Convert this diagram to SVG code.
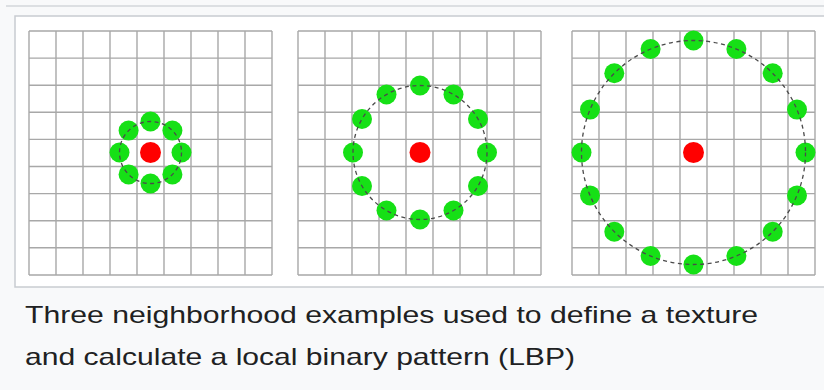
<svg xmlns="http://www.w3.org/2000/svg" xmlns:xlink="http://www.w3.org/1999/xlink" width="824" height="390" viewBox="0 0 824 390">
<style>
.gl{stroke:#a8a8a8;stroke-width:1.4;fill:none}
.nb{fill:#16e016}
.ct{fill:#f00}
.ring{fill:none;stroke:#4a4a4a;stroke-width:1.3;stroke-dasharray:4 3.5}
.cap{font-family:"Liberation Sans",Arial,sans-serif;font-size:24px;fill:#202122}
</style>
<defs>
<g id="grid">
<path class="gl" d="M0 0V244M27 0V244M54 0V244M81 0V244M108 0V244M135 0V244M162 0V244M189 0V244M216 0V244M243 0V244M0 0H243M0 27.1H243M0 54.2H243M0 81.3H243M0 108.4H243M0 135.5H243M0 162.6H243M0 189.7H243M0 216.8H243M0 244H243"/>
</g>
<circle id="dot" r="10" class="nb"/>
</defs>
<rect x="0" y="0" width="824" height="390" fill="#f8f9fa"/>
<line x1="6" y1="6" x2="824" y2="6" stroke="#dcdfe2" stroke-width="2"/>
<rect x="15" y="16" width="815" height="271" fill="#fff" stroke="#c8ccd1" stroke-width="1.5"/>
<g id="panel1">
<use xlink:href="#grid" x="29" y="31"/>
<use xlink:href="#dot" x="181.5" y="152.5"/>
<use xlink:href="#dot" x="172.4" y="130.6"/>
<use xlink:href="#dot" x="150.5" y="121.5"/>
<use xlink:href="#dot" x="128.6" y="130.6"/>
<use xlink:href="#dot" x="119.5" y="152.5"/>
<use xlink:href="#dot" x="128.6" y="174.4"/>
<use xlink:href="#dot" x="150.5" y="183.5"/>
<use xlink:href="#dot" x="172.4" y="174.4"/>
<circle class="ring" cx="150.5" cy="152.5" r="31"/>
<circle class="ct" cx="150.5" cy="152.5" r="10.5"/>
</g>
<g id="panel2">
<use xlink:href="#grid" x="298" y="31"/>
<use xlink:href="#dot" x="487" y="152.5"/>
<use xlink:href="#dot" x="478" y="119"/>
<use xlink:href="#dot" x="453.5" y="94.5"/>
<use xlink:href="#dot" x="420" y="85.5"/>
<use xlink:href="#dot" x="386.5" y="94.5"/>
<use xlink:href="#dot" x="362" y="119"/>
<use xlink:href="#dot" x="353" y="152.5"/>
<use xlink:href="#dot" x="362" y="186"/>
<use xlink:href="#dot" x="386.5" y="210.5"/>
<use xlink:href="#dot" x="420" y="219.5"/>
<use xlink:href="#dot" x="453.5" y="210.5"/>
<use xlink:href="#dot" x="478" y="186"/>
<circle class="ring" cx="420" cy="152.5" r="67"/>
<circle class="ct" cx="420" cy="152.5" r="10.5"/>
</g>
<g id="panel3">
<use xlink:href="#grid" x="572" y="31"/>
<use xlink:href="#dot" x="805.5" y="152.5"/>
<use xlink:href="#dot" x="797" y="109.6"/>
<use xlink:href="#dot" x="772.7" y="73.3"/>
<use xlink:href="#dot" x="736.4" y="49"/>
<use xlink:href="#dot" x="693.5" y="40.5"/>
<use xlink:href="#dot" x="650.6" y="49"/>
<use xlink:href="#dot" x="614.3" y="73.3"/>
<use xlink:href="#dot" x="590" y="109.6"/>
<use xlink:href="#dot" x="581.5" y="152.5"/>
<use xlink:href="#dot" x="590" y="195.4"/>
<use xlink:href="#dot" x="614.3" y="231.7"/>
<use xlink:href="#dot" x="650.6" y="256"/>
<use xlink:href="#dot" x="693.5" y="264.5"/>
<use xlink:href="#dot" x="736.4" y="256"/>
<use xlink:href="#dot" x="772.7" y="231.7"/>
<use xlink:href="#dot" x="797" y="195.4"/>
<circle class="ring" cx="693.5" cy="152.5" r="112"/>
<circle class="ct" cx="693.5" cy="152.5" r="10.5"/>
</g>
<g id="caption">
<text class="cap" x="25" y="323" textLength="733" lengthAdjust="spacingAndGlyphs">Three neighborhood examples used to define a texture</text>
<text class="cap" x="25" y="365" textLength="550" lengthAdjust="spacingAndGlyphs">and calculate a local binary pattern (LBP)</text>
</g>
</svg>
